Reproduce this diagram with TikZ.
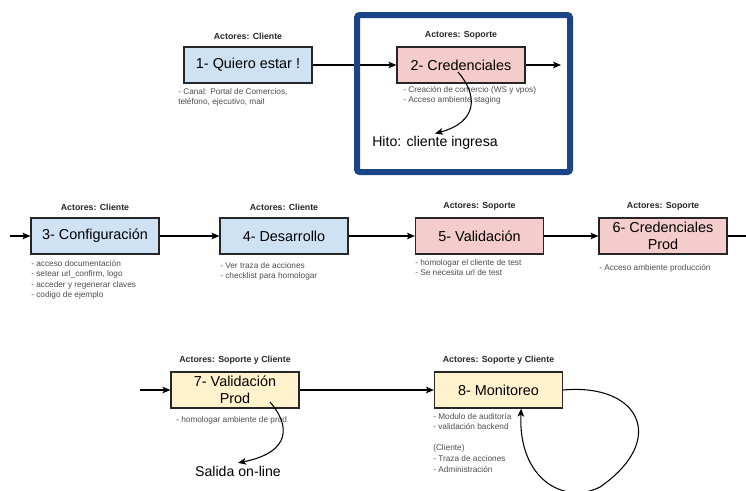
\documentclass[tikz,border=0pt]{standalone}
\usepackage{fontspec}
\setmainfont{Liberation Sans}
\usetikzlibrary{arrows.meta,positioning}
\definecolor{cliente}{HTML}{CFE2F3}
\definecolor{soporte}{HTML}{F4CCCC}
\definecolor{ambos}{HTML}{FFF2CC}
\definecolor{marco}{HTML}{1C4587}

\begin{document}
\begin{tikzpicture}[x=0.75pt, y=-0.75pt,
  stepbox/.style={rectangle, draw=black!85, line width=0.9pt, minimum width=96pt, minimum height=27pt, inner sep=1pt, align=center, font=\fontsize{10.8}{12.6}\selectfont},
  actor/.style={inner sep=0pt, font=\fontsize{6.6}{8}\selectfont\bfseries, text=black!85},
  notes/.style={anchor=north west, inner sep=0pt, align=left, font=\fontsize{6.2}{7.9}\selectfont, text=black!70},
  hito/.style={inner sep=2pt, font=\fontsize{10.6}{12}\selectfont},
  arr/.style={-{Stealth[length=6pt,width=5pt,inset=1.5pt]}, line width=0.8pt}
]
  \useasboundingbox (0,0) rectangle (746,490);

  % fila 1
  \node[stepbox, fill=cliente] (quiero) at (248,65) {1- Quiero estar !};
  \node[stepbox, fill=soporte] (cred) at (461,65) {2- Credenciales};
  \node[actor, above=5pt of quiero] (a1) {Actores: Cliente};
  \node[actor, above=5pt of cred] (a2) {Actores: Soporte};
  \node[notes] (n1) at (178,88) {- Canal: Portal de Comercios,\\tel\'efono, ejecutivo, mail};
  \node[notes] (n2) at (403,86) {- Creaci\'on de comercio (WS y vpos)\\- Acceso ambiente staging};
  \node[hito] (hito) at (435,143) {Hito: cliente ingresa};
  \coordinate (c2out) at (561,65);
  \coordinate (h0) at (458,72);

  \draw[arr] (quiero) -- (cred);
  \draw[arr] (cred) -- (c2out);
  \draw[arr] (h0) .. controls (478,95) and (478,122) .. (hito.north);

  % fila 2
  \node[stepbox, fill=cliente] (config) at (95,236) {3- Configuraci\'on};
  \node[stepbox, fill=cliente] (desa) at (284,236) {4- Desarrollo};
  \node[stepbox, fill=soporte] (valid) at (479.5,236) {5- Validaci\'on};
  \node[stepbox, fill=soporte] (credprod) at (663,236) {6- Credenciales\\Prod};
  \node[actor, above=5pt of config] (a3) {Actores: Cliente};
  \node[actor, above=5pt of desa] (a4) {Actores: Cliente};
  \node[actor, above=5pt of valid] (a5) {Actores: Soporte};
  \node[actor, above=5pt of credprod] (a6) {Actores: Soporte};
  \node[notes] (n3) at (31,260) {- acceso documentaci\'on\\- setear url\_confirm, logo\\- acceder y regenerar claves\\- codigo de ejemplo};
  \node[notes] (n4) at (220,262) {- Ver traza de acciones\\- checklist para homologar};
  \node[notes] (n5) at (415,259) {- homologar el cliente de test\\- Se necesita url de test};
  \node[notes] (n6) at (599,264) {- Acceso ambiente producci\'on};
  \coordinate (r2in) at (10,236);
  \coordinate (r2out) at (746,236);

  \draw[arr] (r2in) -- (config);
  \draw[arr] (config) -- (desa);
  \draw[arr] (desa) -- (valid);
  \draw[arr] (valid) -- (credprod);
  \draw[line width=0.8pt] (credprod) -- (r2out);

  % fila 3
  \node[stepbox, fill=ambos] (validprod) at (235,390) {7- Validaci\'on\\Prod};
  \node[stepbox, fill=ambos] (monit) at (498.5,390) {8- Monitoreo};
  \node[actor, above=5pt of validprod] (a7) {Actores: Soporte y Cliente};
  \node[actor, above=5pt of monit] (a8) {Actores: Soporte y Cliente};
  \node[notes] (n7) at (176,416) {- homologar ambiente de prod};
  \node[notes] (n8) at (433,413) {- Modulo de auditor\'ia\\- validaci\'on backend\\\\(Cliente)\\- Traza de acciones\\- Administraci\'on};
  \node[hito] (salida) at (238,471) {Salida on-line};
  \coordinate (r3in) at (140,390);
  \coordinate (s0) at (270,402);

  \draw[arr] (r3in) -- (validprod);
  \draw[arr] (validprod) -- (monit);
  \draw[arr] (s0) .. controls (290,425) and (292,452) .. (salida.north);
  \draw[arr] (monit.east) .. controls (640,383) and (668,440) .. (600,487)
    .. controls (565,505) and (518,480) .. ([xshift=17pt]monit.south);

  % recuadro del hito
  \draw[marco, line width=4.5pt, rounded corners=2pt] (357,15) rectangle (570,172);
\end{tikzpicture}
\end{document}
